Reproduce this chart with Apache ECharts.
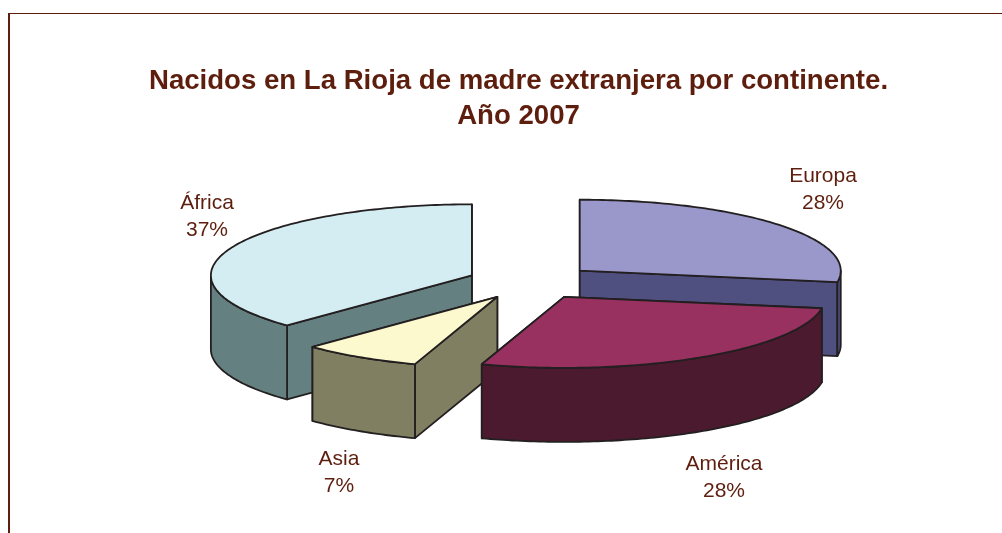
<!DOCTYPE html>
<html>
<head>
<meta charset="utf-8">
<style>
  html, body { margin: 0; padding: 0; background: #fff; }
  #main { width: 1002px; height: 533px; }
</style>
<script src="https://cdn.jsdelivr.net/npm/echarts@6/dist/echarts.min.js"></script>
</head>
<body>
<div id="main"></div>
<script>
var continents = ["Europa", "América", "Asia", "África"];
var values = [27.5, 27.5, 7.4, 37.4];
var topColors = ["#9A97CB", "#98315F", "#FDF9CE", "#D3EDF3"];
var sideColors = ["#4F4F80", "#4C1A2F", "#807F62", "#658080"];
// orden de pintado: de atras hacia delante
var paintOrder = [0, 3, 2, 1];

var INK = "#5E1E0E";
var EDGE = "#231F20";
var CX = 531, CY = 282, RX = 261, RY = 71, DEPTH = 74, EXPLODE = 64;
var labelAt = [[823, 190], [724, 478], [339, 473], [207, 217]];

var total = values.reduce(function (a, b) { return a + b; }, 0);
var startDeg = [];
var acc = 0;
for (var i = 0; i < values.length; i++) {
  startDeg.push(acc);
  acc += (values[i] / total) * 360;
}

function pt(c, deg, dy) {
  var r = (deg * Math.PI) / 180;
  return [c[0] + RX * Math.sin(r), c[1] - RY * Math.cos(r) + (dy || 0)];
}

function arc(c, from, to, dy) {
  var pts = [];
  var n = Math.max(1, Math.ceil(Math.abs(to - from)));
  for (var k = 0; k <= n; k++) {
    pts.push(pt(c, from + ((to - from) * k) / n, dy));
  }
  return pts;
}

function face(points, fill) {
  return {
    type: "polygon",
    shape: { points: points },
    style: { fill: fill, stroke: EDGE, lineWidth: 1.8, lineJoin: "round" },
  };
}

function renderSlice(params, api) {
  var idx = api.value(0);
  var from = startDeg[idx];
  var to = from + (api.value(1) / total) * 360;
  var mid = (((from + to) / 2) * Math.PI) / 180;
  // centro del sector separado en la direccion de su angulo medio
  var c = [
    CX + EXPLODE * Math.sin(mid),
    CY - (EXPLODE * RY * Math.cos(mid)) / RX,
  ];
  var down = [c[0], c[1] + DEPTH];
  var side = sideColors[idx];
  var children = [];

  // la cara de corte mas cercana se pinta la ultima
  var cuts = pt(c, from)[1] < pt(c, to)[1] ? [from, to] : [to, from];
  cuts.forEach(function (deg) {
    var a = pt(c, deg);
    children.push(face([c, a, [a[0], a[1] + DEPTH], down], side));
  });

  var wallFrom = Math.max(from, 90);
  var wallTo = Math.min(to, 270);
  if (wallTo > wallFrom) {
    children.push(
      face(arc(c, wallFrom, wallTo).concat(arc(c, wallTo, wallFrom, DEPTH)), side)
    );
  }

  children.push(face([c].concat(arc(c, from, to)), topColors[idx]));

  children.push({
    type: "text",
    style: {
      x: labelAt[idx][0],
      y: labelAt[idx][1],
      text: continents[idx] + "\n" + Math.round(api.value(1)) + "%",
      fill: INK,
      fontFamily: "Liberation Sans",
      fontSize: 21,
      lineHeight: 27,
      align: "center",
      verticalAlign: "middle",
    },
  });

  return { type: "group", children: children };
}

var chart = echarts.init(document.getElementById("main"));
chart.setOption({
  animation: false,
  backgroundColor: "#fff",
  title: {
    text: "Nacidos en La Rioja de madre extranjera por continente.\nAño 2007",
    left: 513.5,
    top: 59,
    textAlign: "center",
    textStyle: {
      color: INK,
      fontFamily: "Liberation Sans",
      fontWeight: "bold",
      fontSize: 27.6,
      lineHeight: 35,
    },
  },
  graphic: [
    {
      type: "line",
      shape: { x1: 9, y1: 13, x2: 9, y2: 533 },
      style: { stroke: INK, lineWidth: 2 },
    },
    {
      type: "line",
      shape: { x1: 8, y1: 13.5, x2: 1002, y2: 13.5 },
      style: { stroke: INK, lineWidth: 1 },
    },
  ],
  series: [
    {
      type: "custom",
      coordinateSystem: "none",
      renderItem: renderSlice,
      data: paintOrder.map(function (i) {
        return [i, values[i]];
      }),
    },
  ],
});
</script>
</body>
</html>
